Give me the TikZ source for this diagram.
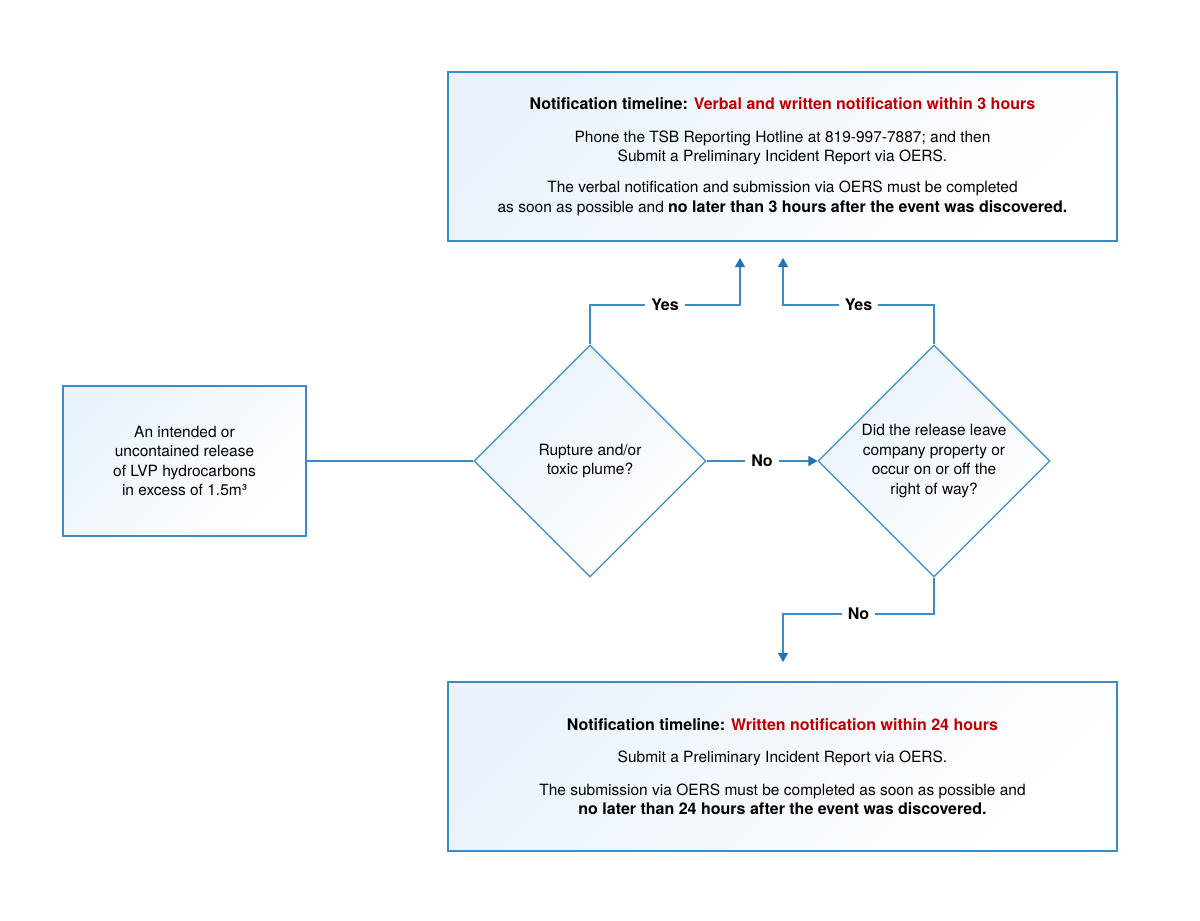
\documentclass[tikz,border=0pt]{standalone}
\usepackage{fontspec}
\setmainfont{TeX Gyre Heros}
\usetikzlibrary{shapes.geometric,arrows.meta}
\definecolor{lineblue}{HTML}{3A8CC8}
\definecolor{tipblue}{HTML}{1E73B8}
\definecolor{fillblue}{HTML}{EAF3FC}
\definecolor{alertred}{HTML}{C00000}
\newcommand{\bd}[1]{{\fontsize{16}{19.5}\selectfont\bfseries #1}}
\begin{document}
\begin{tikzpicture}[x=1pt,y=-1pt,
  txt/.style={font=\fontsize{15.5}{19.5}\selectfont, align=center, text=black},
  box/.style={draw=lineblue, line width=1.2pt, left color=fillblue, right color=white, shading angle=45, inner sep=0pt},
  decision/.style={diamond, aspect=1, draw=lineblue, line width=1.2pt, left color=fillblue, right color=white, shading angle=45, minimum width=232pt, minimum height=232pt, inner sep=0pt},
  conn/.style={draw=lineblue, line width=1.2pt},
  arr/.style={conn, -{Triangle[width=10pt,length=9pt,color=tipblue]}},
  lab/.style={fill=white, font=\fontsize{16}{18}\selectfont\bfseries, inner xsep=6pt, inner ysep=2pt, text=black}
]
\useasboundingbox (0,0) rectangle (1200,921);

% boxes
\node[box, minimum width=669pt, minimum height=169pt, txt] (top) at (782.5,156.5)
 {\bd{Notification timeline: \textcolor{alertred}{Verbal and written notification within 3 hours}}\\[13pt]
  Phone the TSB Reporting Hotline at 819-997-7887; and then\\
  Submit a Preliminary Incident Report via OERS.\\[11.5pt]
  The verbal notification and submission via OERS must be completed\\
  as soon as possible and \bd{no later than 3 hours after the event was discovered.}};

\node[box, minimum width=669pt, minimum height=169pt, txt] (bottom) at (782.5,766.5)
 {\bd{Notification timeline: \textcolor{alertred}{Written notification within 24 hours}}\\[13pt]
  Submit a Preliminary Incident Report via OERS.\\[13pt]
  The submission via OERS must be completed as soon as possible and\\
  \bd{no later than 24 hours after the event was discovered.}};

\node[box, minimum width=243pt, minimum height=150pt] (start) at (184.5,461) {};
\node[txt] (starttext) at (start) {An intended or\\uncontained release\\of LVP hydrocarbons\\in excess of 1.5m³};

% decisions
\node[decision] (d1) at (590,461) {};
\node[txt] (d1text) at (d1) {Rupture and/or\\toxic plume?};
\node[decision] (d2) at (934,461) {};
\node[txt] (d2text) at (d2) {Did the release leave\\company property or\\occur on or off the\\right of way?};

% arrow end points
\coordinate (t1) at (740,258);
\coordinate (t2) at (783,258);
\coordinate (t3) at (783,662);
\coordinate (h1) at (0,305);
\coordinate (h3) at (0,614);

% connectors
\draw[conn] (start.east) -- (d1.west);
\draw[arr] (d1.east) -- node[lab]{No} (d2.west);
\draw[arr] (d1.north) |- node[lab,pos=0.75]{Yes} (t1 |- h1) -- (t1);
\draw[arr] (d2.north) |- node[lab,pos=0.75]{Yes} (t2 |- h1) -- (t2);
\draw[arr] (d2.south) |- node[lab,pos=0.75]{No} (t3 |- h3) -- (t3);
\end{tikzpicture}
\end{document}
